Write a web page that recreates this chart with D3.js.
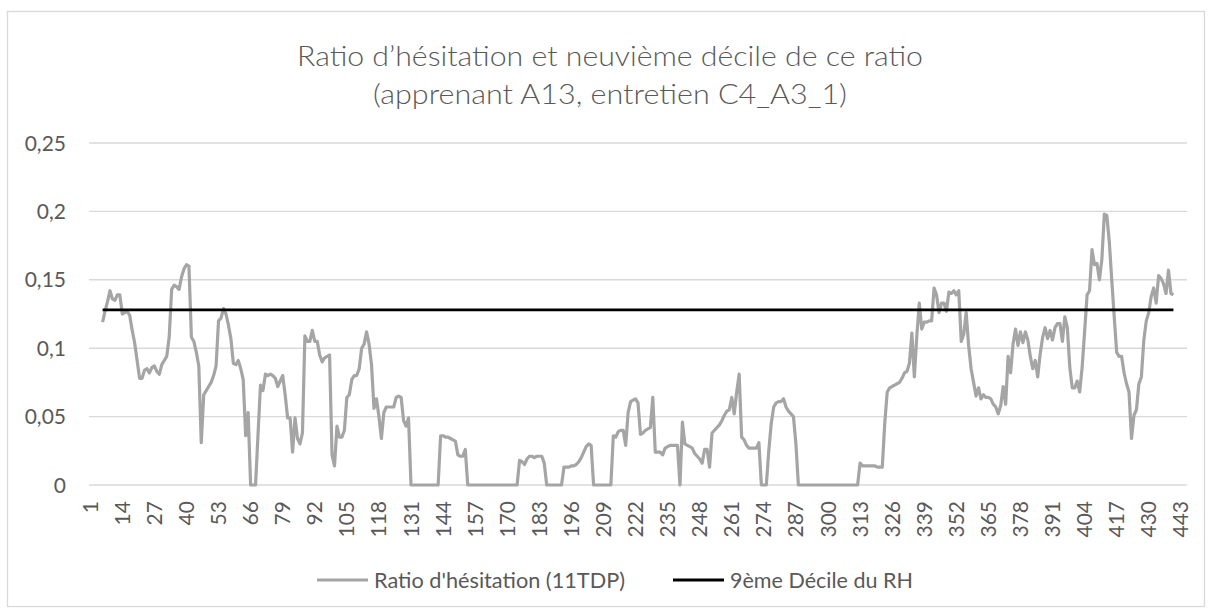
<!DOCTYPE html>
<meta charset="utf-8">
<style>
  body { margin: 0; background: #fff; }
  svg { display: block; }
  text { font-family: Lato, "Open Sans", sans-serif; fill: #595959; }
</style>
<svg width="1212" height="610"></svg>
<script src="https://d3js.org/d3.v7.min.js"></script>
<script>

// categories 1..445, the moving ratio starts at 6 and ends at 440
var nCategories = 445
var firstCategory = 6

var xTickLabels = [1, 14, 27, 40, 53, 66, 79, 92, 105, 118, 131, 144, 157, 170, 183, 196, 209,
  222, 235, 248, 261, 274, 287, 300, 313, 326, 339, 352, 365, 378, 391, 404, 417, 430, 443]

var yTicks = [0, 0.05, 0.1, 0.15, 0.2, 0.25]

// Ratio d'hésitation (11TDP)
var ratioValues = [
  0.119,0.127,0.134,0.142,0.136,0.135,0.139,0.139,0.125,0.126,
  0.127,0.124,0.113,0.104,0.091,0.078,0.078,0.084,0.085,0.082,
  0.086,0.087,0.083,0.081,0.088,0.091,0.094,0.108,0.143,0.146,
  0.145,0.143,0.152,0.158,0.161,0.160,0.108,0.105,0.097,0.087,
  0.031,0.066,0.069,0.072,0.075,0.080,0.087,0.120,0.122,0.129,
  0.125,0.117,0.107,0.089,0.088,0.091,0.085,0.077,0.036,0.053,
  0,0,0,
  0.037,0.073,0.069,0.081,0.080,0.081,
  0.080,0.078,0.072,0.076,0.080,0.066,0.049,0.049,0.024,0.049,
  0.034,0.030,0.038,0.109,0.105,0.105,0.113,0.105,0.105,0.095,
  0.090,0.093,0.094,0.095,0.022,0.014,0.043,0.035,0.035,0.040,
  0.064,0.066,0.077,0.080,0.080,0.085,0.100,0.103,0.112,0.103,
  0.088,0.056,0.063,0.050,0.034,0.053,0.057,0.057,0.057,0.057,
  0.064,0.065,0.064,0.047,0.043,0.049,0,0,0,0,
  0,0,0,0,0,0,0,0,0.036,0.036,
  0.035,0.035,0.034,0.033,0.032,0.022,0.021,0.021,0.026,
  0,0,0,0,0,0,0,0,0,0,
  0,0,0,0,0,0,0,0,0,0,0,
  0.018,0.017,0.015,0.019,0.021,0.021,0.020,0.021,0.021,0.021,
  0.016,0,0,0,0,0,0,0,0.013,0.013,
  0.013,0.014,0.014,0.015,0.017,0.020,0.024,0.028,0.030,0.029,
  0,0,0,0,0,0,0,0,0.036,0.035,
  0.039,0.040,0.040,0.029,0.053,0.061,0.062,0.063,0.060,0.037,
  0.038,0.040,0.041,0.042,0.064,0.024,0.024,0.024,0.022,0.027,
  0.028,0.029,0.029,0.029,0.029,0,0.046,0.030,0.029,0.028,
  0.027,0.023,0.021,0.019,0.016,0.026,0.026,0.013,0.038,0.040,
  0.042,0.044,0.047,0.051,0.054,0.055,0.064,0.052,0.068,0.081,
  0.035,0.033,0.029,0.027,0.027,0.027,0.027,0.031,0,0,
  0,0.025,0.045,0.057,0.060,0.061,0.061,0.063,0.057,0.054,
  0.052,0.050,0.030,
  0,0,0,0,0,0,0,0,0,0,
  0,0,0,0,0,0,0,0,0,0,
  0,0,0,0,0,
  0.016,0.014,0.014,0.014,0.014,0.014,0.014,0.013,0.013,0.013,
  0.045,0.068,0.071,0.072,0.073,0.074,0.075,0.078,0.082,0.083,
  0.089,0.111,0.079,0.109,0.133,0.114,0.119,0.119,0.120,0.120,
  0.144,0.139,0.126,0.133,0.133,0.127,0.141,0.140,0.142,0.139,
  0.142,0.105,0.110,0.126,0.102,0.085,0.075,0.065,0.071,0.063,
  0.066,0.064,0.064,0.063,0.059,0.057,0.052,0.058,0.072,0.059,
  0.094,0.082,0.103,0.114,0.102,0.112,0.104,0.112,0.106,0.094,
  0.085,0.091,0.079,0.096,0.108,0.115,0.107,0.113,0.106,0.115,
  0.118,0.118,0.105,0.123,0.115,0.086,0.071,
  0.071,0.076,
  0.068,0.086,0.112,0.139,0.142,0.172,0.161,0.162,0.150,0.165,
  0.198,0.197,0.178,0.150,0.123,0.097,0.094,0.094,0.082,0.074,
  0.068,0.034,0.051,0.055,0.074,0.079,0.106,0.120,0.126,0.138,
  0.144,0.133,0.153,0.151,0.147,0.140,0.157,0.140,0.139
]

// 9ème décile du RH
var decileValue = 0.128

var titleLines = ["Ratio d\u2019hésitation et neuvième décile de ce ratio", "(apprenant A13, entretien C4_A3_1)"]
var seriesNames = ["Ratio d'hésitation (11TDP)", "9ème Décile du RH"]

var svg = d3.select('svg')

svg.append('rect')
  .attr('x', 7.5).attr('y', 11.5)
  .attr('width', 1197).attr('height', 595)
  .attr('fill', '#fff')
  .attr('stroke', '#d9d9d9')
  .attr('stroke-width', 1.3)

var x = d3.scaleLinear().domain([0.5, nCategories + 0.5]).range([89, 1187])
var y = d3.scaleLinear().domain([0, 0.25]).range([485, 143])

// gridlines
svg.append('g')
  .selectAll('line')
  .data(yTicks)
  .enter().append('line')
    .attr('x1', 89).attr('x2', 1187)
    .attr('y1', function (d) { return y(d) })
    .attr('y2', function (d) { return y(d) })
    .attr('stroke', '#d9d9d9')
    .attr('stroke-width', 1.4)

// y labels, french decimal comma
svg.append('g')
  .selectAll('text')
  .data(yTicks)
  .enter().append('text')
    .attr('x', 66)
    .attr('y', function (d) { return y(d) })
    .attr('dy', '0.36em')
    .attr('text-anchor', 'end')
    .attr('font-size', 21)
    .text(function (d) { return String(d).replace('.', ',') })

// x labels, rotated
svg.append('g')
  .selectAll('text')
  .data(xTickLabels)
  .enter().append('text')
    .attr('transform', function (d) { return 'translate(' + x(d) + ',501) rotate(-90)' })
    .attr('dy', '0.36em')
    .attr('text-anchor', 'end')
    .attr('font-size', 21)
    .text(function (d) { return d })

var ratioPoints = ratioValues.map(function (v, i) { return { c: firstCategory + i, v: v } })
var lastCategory = firstCategory + ratioValues.length - 1

var line = d3.line()
  .x(function (d) { return x(d.c) })
  .y(function (d) { return y(d.v) })

svg.append('path')
  .datum(ratioPoints)
  .attr('d', line)
  .attr('fill', 'none')
  .attr('stroke', '#a5a5a5')
  .attr('stroke-width', 3.2)
  .attr('stroke-linejoin', 'round')

svg.append('path')
  .datum([{ c: firstCategory, v: decileValue }, { c: lastCategory, v: decileValue }])
  .attr('d', line)
  .attr('fill', 'none')
  .attr('stroke', '#000')
  .attr('stroke-width', 2.8)

// title
svg.append('g')
  .selectAll('text')
  .data(titleLines)
  .enter().append('text')
    .attr('x', 610)
    .attr('y', function (d, i) { return 66 + i * 38 })
    .attr('text-anchor', 'middle')
    .attr('font-size', 27)
    .attr('font-weight', 300)
    .attr('textLength', function (d, i) { return i == 0 ? 626 : 474 })
    .attr('lengthAdjust', 'spacingAndGlyphs')
    .text(function (d) { return d })

// legend
var legendItems = [
  { name: seriesNames[0], color: '#a5a5a5', x: 317, w: 251 },
  { name: seriesNames[1], color: '#000', x: 673, w: 183 }
]
var legend = svg.append('g')
legendItems.forEach(function (item) {
  legend.append('line')
    .attr('x1', item.x).attr('x2', item.x + 51)
    .attr('y1', 580).attr('y2', 580)
    .attr('stroke', item.color)
    .attr('stroke-width', 3)
  legend.append('text')
    .attr('x', item.x + 57)
    .attr('y', 580)
    .attr('dy', '0.36em')
    .attr('font-size', 22)
    .attr('textLength', item.w)
    .attr('lengthAdjust', 'spacingAndGlyphs')
    .text(item.name)
})

</script>
